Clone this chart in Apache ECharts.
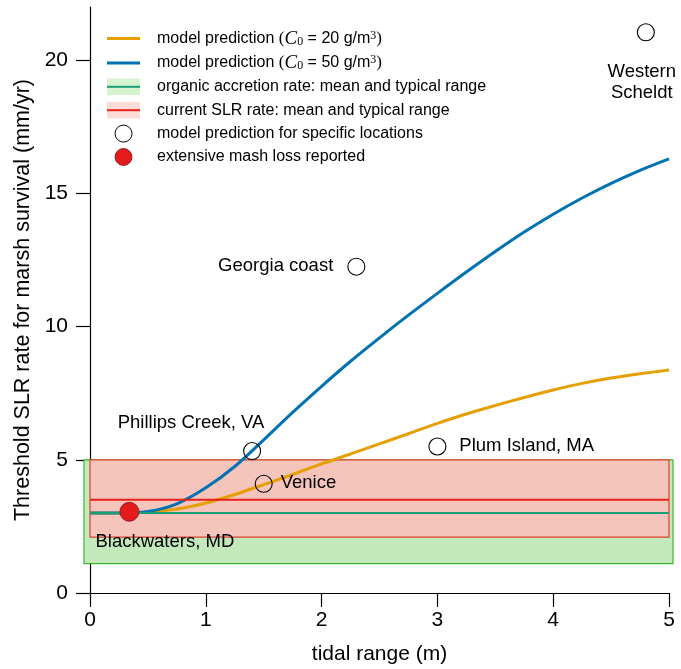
<!DOCTYPE html>
<html>
<head>
<meta charset="utf-8">
<script src="https://cdn.jsdelivr.net/npm/echarts@6/dist/echarts.min.js"></script>
<style>
  html, body { margin: 0; padding: 0; background: #fff; }
  #chart { width: 681px; height: 669px; }
</style>
</head>
<body>
<div id="chart"></div>
<script>
// tidal range (m) and threshold SLR (mm/yr)
var tidalRange = [0, 0.25, 0.5, 0.75, 1.0, 1.25, 1.5, 1.75, 2.0, 2.25, 2.5, 2.75, 3.0, 3.25, 3.5, 3.75, 4.0, 4.25, 4.5, 4.75, 5.0];
var slrC20 = [3.0, 3.0, 3.03, 3.15, 3.38, 3.7, 4.07, 4.45, 4.85, 5.22, 5.6, 5.98, 6.37, 6.72, 7.04, 7.34, 7.62, 7.87, 8.07, 8.23, 8.37];
var slrC50 = [3.0, 3.0, 3.06, 3.35, 3.95, 4.75, 5.75, 6.78, 7.76, 8.7, 9.58, 10.43, 11.25, 12.05, 12.82, 13.55, 14.22, 14.83, 15.38, 15.87, 16.3];

// low, mean, high
var accretionRange = [1.1, 3.0, 5.0];
var slrRange = [2.1, 3.5, 5.0];

// sites
var siteNames = ['Phillips Creek, VA', 'Venice', 'Georgia coast', 'Plum Island, MA', 'Western\nScheldt'];
var siteTide = [1.4, 1.5, 2.3, 3.0, 4.8];
var siteSlr = [5.33, 4.1, 12.25, 5.5, 21.05];

var lossNames = ['Blackwaters, MD'];
var lossTide = [0.34];
var lossSlr = [3.05];

var xTicks = [0, 1, 2, 3, 4, 5];
var yTicks = [0, 5, 10, 15, 20];

var N1 = 'model prediction (C0 = 20 g/m3)';
var N2 = 'model prediction (C0 = 50 g/m3)';
var N3 = 'organic accretion rate: mean and typical range';
var N4 = 'current SLR rate: mean and typical range';
var N5 = 'model prediction for specific locations';
var N6 = 'extensive mash loss reported';

var FONT = '"Liberation Sans", Arial, Helvetica, sans-serif';
var SERIF = '"Liberation Serif", "DejaVu Serif", serif';

// where each site label sits, relative to its marker box
var labelPlace = {
  'Phillips Creek, VA': { position: [-52, -19], align: 'center' },
  'Venice': { position: [26, 8.5], align: 'left' },
  'Georgia coast': { position: [-14, 8.5], align: 'right' },
  'Plum Island, MA': { position: [31, 8.5], align: 'left' },
  'Western\nScheldt': { position: [5, 59], align: 'center' },
  'Blackwaters, MD': { position: [-24, 40], align: 'left' }
};

function zip(xs, ys) {
  var out = [];
  for (var i = 0; i < xs.length; i++) out.push([xs[i], ys[i]]);
  return out;
}

function points(names, xs, ys) {
  return names.map(function (n, i) {
    var p = labelPlace[n];
    return {
      name: n,
      value: [xs[i], ys[i]],
      label: { position: p.position, align: p.align, verticalAlign: 'middle' }
    };
  });
}

function bandIcon(fill, line) {
  var svg = "<svg xmlns='http://www.w3.org/2000/svg' width='33' height='17'>" +
    "<rect width='33' height='17' fill='" + fill + "'/>" +
    "<rect y='7.5' width='33' height='2' fill='" + line + "'/></svg>";
  return 'image://data:image/svg+xml;charset=utf-8,' + encodeURIComponent(svg);
}

function bandRender(fill, stroke, padL, padR) {
  return function (params, api) {
    var a = api.coord([api.value(0), api.value(3)]);
    var b = api.coord([api.value(1), api.value(2)]);
    return {
      type: 'rect',
      shape: { x: a[0] - padL, y: a[1], width: b[0] - a[0] + padL + padR, height: b[1] - a[1] },
      style: { fill: fill, stroke: stroke, lineWidth: 1.2 }
    };
  };
}

var xMin = xTicks[0], xMax = xTicks[xTicks.length - 1];
var lineIcon = 'path://M0 0H33V3H0Z';

var chart = echarts.init(document.getElementById('chart'), null, { renderer: 'canvas' });

var option = {
  animation: false,
  backgroundColor: '#fff',
  grid: { left: 90, right: 12, top: 7, bottom: 76, outerBoundsMode: 'none' },
  legend: {
    orient: 'vertical',
    left: 107,
    top: 29,
    padding: 0,
    itemWidth: 33,
    itemHeight: 17,
    itemGap: 5.4,
    selectedMode: false,
    textStyle: { fontFamily: FONT, fontSize: 16, color: '#000', lineHeight: 18, padding: [0, 0, 0, 12],
      rich: {
        t: { fontFamily: FONT, fontSize: 16, color: '#000', lineHeight: 18 },
        m: { fontFamily: SERIF, fontSize: 17, color: '#000', lineHeight: 18 },
        i: { fontFamily: SERIF, fontStyle: 'italic', fontSize: 19, color: '#000', lineHeight: 18 },
        s: { fontFamily: SERIF, fontSize: 12, color: '#000', lineHeight: 18, verticalAlign: 'bottom' },
        p: { fontFamily: SERIF, fontSize: 12, color: '#000', lineHeight: 18, verticalAlign: 'top' }
      }
    },
    formatter: function (name) {
      if (name === N1 || name === N2) {
        var c = name === N1 ? '20' : '50';
        return '{t|model prediction }{m|(}{i|C}{s|0}{t| = ' + c + ' g/m}{p|3}{m|)}';
      }
      return '{t|' + name + '}';
    },
    data: [
      { name: N1, icon: lineIcon },
      { name: N2, icon: lineIcon },
      { name: N3, icon: bandIcon('#d6f2cf', '#1b9e77') },
      { name: N4, icon: bandIcon('#fcdcd7', '#e8201a') },
      { name: N5, icon: 'circle', itemStyle: { borderWidth: 1 } },
      { name: N6, icon: 'circle', itemStyle: { borderWidth: 0.8 } }
    ]
  },
  xAxis: {
    type: 'value',
    min: xMin,
    max: xMax,
    interval: 1,
    name: 'tidal range (m)',
    nameLocation: 'middle',
    nameGap: 51,
    nameTextStyle: { fontFamily: FONT, fontSize: 21, color: '#000' },
    axisLine: { show: true, onZero: false, lineStyle: { color: '#000', width: 1.2 } },
    axisTick: { show: true, length: 14, lineStyle: { color: '#000', width: 1.2 } },
    axisLabel: { fontFamily: FONT, fontSize: 21, color: '#000', margin: 17 },
    splitLine: { show: false }
  },
  yAxis: {
    type: 'value',
    min: 0,
    max: 22,
    name: 'Threshold SLR rate for marsh survival (mm/yr)',
    nameLocation: 'middle',
    nameGap: 56,
    nameTextStyle: { fontFamily: FONT, fontSize: 21.5, color: '#000' },
    axisLine: { show: true, onZero: false, lineStyle: { color: '#000', width: 1.2 } },
    axisTick: { show: true, length: 14, customValues: yTicks, lineStyle: { color: '#000', width: 1.2 } },
    axisLabel: { fontFamily: FONT, fontSize: 21, color: '#000', margin: 22, customValues: yTicks },
    splitLine: { show: false }
  },
  series: [
    {
      name: N3,
      type: 'custom',
      z: 1,
      silent: true,
      itemStyle: { color: '#c3e9bb' },
      renderItem: bandRender('#c3e9bb', '#3cb82e', 6, 4),
      data: [[xMin, xMax, accretionRange[0], accretionRange[2]]]
    },
    {
      name: N4,
      type: 'custom',
      z: 2,
      silent: true,
      itemStyle: { color: '#f5c4bb' },
      renderItem: bandRender('#f5c4bb', '#e0402f', 0, 0),
      data: [[xMin, xMax, slrRange[0], slrRange[2]]]
    },
    {
      name: N1,
      type: 'line',
      z: 3,
      symbol: 'none',
      smooth: 0.3,
      color: '#e69f00',
      lineStyle: { color: '#e69f00', width: 3 },
      data: zip(tidalRange, slrC20)
    },
    {
      name: N2,
      type: 'line',
      z: 3,
      symbol: 'none',
      smooth: 0.3,
      color: '#0072b2',
      lineStyle: { color: '#0072b2', width: 3 },
      data: zip(tidalRange, slrC50)
    },
    {
      name: N4,
      type: 'line',
      z: 4,
      symbol: 'none',
      silent: true,
      lineStyle: { color: '#e8201a', width: 2 },
      data: [[xMin, slrRange[1]], [xMax, slrRange[1]]]
    },
    {
      name: N3,
      type: 'line',
      z: 4,
      symbol: 'none',
      silent: true,
      lineStyle: { color: '#1b9e77', width: 2 },
      data: [[xMin, accretionRange[1]], [xMax, accretionRange[1]]]
    },
    {
      name: N5,
      type: 'scatter',
      z: 5,
      symbol: 'circle',
      symbolSize: 17,
      itemStyle: { color: 'rgba(255,255,255,0)', borderColor: '#000', borderWidth: 1.1, opacity: 1 },
      label: { show: true, formatter: '{b}', fontFamily: FONT, fontSize: 18.5, color: '#000', lineHeight: 21 },
      data: points(siteNames, siteTide, siteSlr)
    },
    {
      name: N6,
      type: 'scatter',
      z: 5,
      symbol: 'circle',
      symbolSize: 19,
      itemStyle: { color: '#e41a1c', borderColor: '#7a1414', borderWidth: 0.8, opacity: 1 },
      label: { show: true, formatter: '{b}', fontFamily: FONT, fontSize: 18.5, color: '#000' },
      data: points(lossNames, lossTide, lossSlr)
    }
  ]
};

chart.setOption(option);
</script>
</body>
</html>
